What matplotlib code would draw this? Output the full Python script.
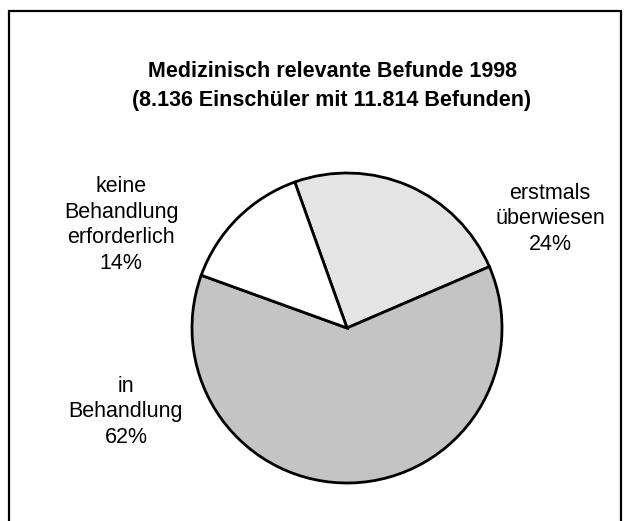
import matplotlib
matplotlib.use("Agg")
import matplotlib.pyplot as plt
from matplotlib.patches import Rectangle

plt.rcParams['font.family'] = ['Liberation Sans', 'DejaVu Sans']

### data
labels = ["erstmals\nüberwiesen\n24%", "in\nBehandlung\n62%", "keine\nBehandlung\nerforderlich\n14%"]
values = [24, 62, 14]
colors = ['#e4e4e4', '#c4c4c4', '#ffffff']
title = "Medizinisch relevante Befunde 1998\n(8.136 Einschüler mit 11.814 Befunden)"

W, H = 625, 521
fig = plt.figure(figsize=(W/100, H/100), dpi=100)

# frame round the chart (bottom runs off the picture)
fig.patches.append(Rectangle((9/W, -0.05), (621-9)/W, 1.05 - 11/H, transform=fig.transFigure,
                             fill=False, edgecolor='black', linewidth=1.6))

# pie axes: centre (347,328), radius 155 px
r = 155
cx, cy = 347, 328
ax = fig.add_axes([(cx-r)/W, (H-cy-r)/H, 2*r/W, 2*r/H])
wedges, _ = ax.pie(values, colors=colors, startangle=109.7, counterclock=False,
                   wedgeprops=dict(edgecolor='black', linewidth=2))
ax.set_aspect('equal')
ax.set_xlim(-1.0, 1.0)
ax.set_ylim(-1.0, 1.0)

fig.text(332/W, 1-86/H, title, ha='center', va='center', fontsize=15.5,
         fontweight='bold', linespacing=1.45)

pos = [(550, 219), (126, 412), (121, 225)]
for lab, (x, y) in zip(labels, pos):
    fig.text(x/W, 1-y/H, lab, ha='center', va='center', fontsize=15.5, linespacing=1.3)

plt.savefig("out.png", dpi=100)
